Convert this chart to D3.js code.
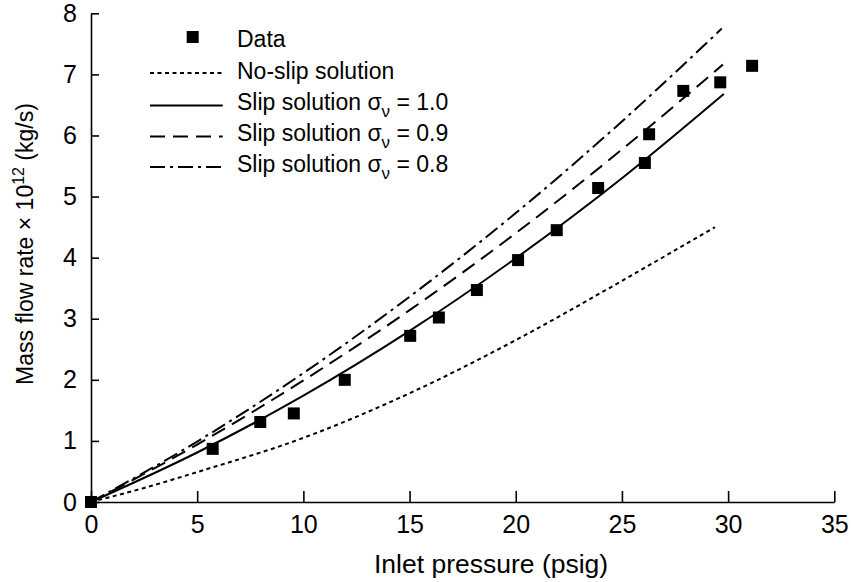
<!DOCTYPE html>
<html>
<head>
<meta charset="utf-8">
<script src="https://cdn.jsdelivr.net/npm/d3@7"></script>
<style>
  html, body { margin: 0; padding: 0; background: #fff; }
  svg { display: block; font-family: "Liberation Sans", Arial, Helvetica, sans-serif; }
</style>
</head>
<body>
<svg id="chart" width="851" height="582"></svg>
<script>
// ---- Data ----
const dataPressure = [0, 5.73, 7.97, 9.55, 11.95, 15.03, 16.38, 18.17, 20.11, 21.93, 23.88, 26.08, 26.28, 27.89, 29.63, 31.13];
const dataFlow     = [0, 0.87, 1.31, 1.45, 2.00, 2.72, 3.02, 3.47, 3.96, 4.45, 5.14, 5.55, 6.02, 6.73, 6.87, 7.14];

const noSlipP = [0, 2.5, 5, 10, 15, 20, 25, 29.38];
const noSlipF = [0, 0.23, 0.49, 1.05, 1.78, 2.65, 3.62, 4.50];

const slip10P = [0, 5, 10, 15, 20, 25, 29.8];
const slip10F = [0, 0.81, 1.74, 2.80, 3.99, 5.30, 6.68];

const slip09P = [0, 5, 10, 15, 20, 25, 29.75];
const slip09F = [0, 0.94, 1.99, 3.14, 4.40, 5.77, 7.16];

const slip08P = [0, 5, 10, 15, 20, 25, 29.7];
const slip08F = [0, 0.99, 2.11, 3.36, 4.73, 6.23, 7.75];

const xTicks = [0, 5, 10, 15, 20, 25, 30, 35];
const yTicks = [0, 1, 2, 3, 4, 5, 6, 7, 8];

const legendLabels = ["Data", "No-slip solution", "Slip solution", "Slip solution", "Slip solution"];
const legendSigmas = [null, null, "1.0", "0.9", "0.8"];

// ---- Layout ----
const svg = d3.select("#chart");
const x = d3.scaleLinear().domain([0, 35]).range([91, 834.3]);
const y = d3.scaleLinear().domain([0, 8]).range([502, 13.3]);

// Axes
const xAxis = d3.axisBottom(x).tickValues(xTicks).tickFormat(d3.format("d"))
  .tickSizeInner(-11).tickSizeOuter(0).tickPadding(13);
const yAxis = d3.axisLeft(y).tickValues(yTicks).tickFormat(d3.format("d"))
  .tickSizeInner(-8).tickSizeOuter(0).tickPadding(14);

const gx = svg.append("g").attr("transform", "translate(0,502)").call(xAxis);
const gy = svg.append("g").attr("transform", "translate(91,0)").call(yAxis);
[gx, gy].forEach(g => {
  g.attr("font-family", null).attr("font-size", null);
  g.selectAll("path.domain").attr("stroke", "#000").attr("stroke-width", 1.6);
  g.selectAll(".tick line").attr("stroke", "#000").attr("stroke-width", 1.6);
  g.selectAll(".tick text").attr("fill", "#000").style("font-size", "25px");
});

// Axis titles
svg.append("text")
  .attr("x", 374).attr("y", 573)
  .style("font-size", "26.5px").attr("fill", "#000")
  .text("Inlet pressure (psig)");

const yt = svg.append("text")
  .attr("transform", "translate(33,244) rotate(-90)")
  .attr("text-anchor", "middle")
  .style("font-size", "23px").attr("fill", "#000");
yt.append("tspan").text("Mass flow rate \u00d7 10");
yt.append("tspan").attr("dy", -9).style("font-size", "16px").text("12");
yt.append("tspan").attr("dy", 9).text(" (kg/s)");

// Lines
const line = d3.line().x(d => x(d[0])).y(d => y(d[1])).curve(d3.curveMonotoneX);
const zip = (a, b) => a.map((v, i) => [v, b[i]]);

const series = [
  { p: noSlipP, f: noSlipF, dash: "4,3.5" },
  { p: slip10P, f: slip10F, dash: null },
  { p: slip09P, f: slip09F, dash: "15,8" },
  { p: slip08P, f: slip08F, dash: "15,5,3,5" }
];

series.forEach(s => {
  svg.append("path")
    .datum(zip(s.p, s.f))
    .attr("d", line)
    .attr("fill", "none")
    .attr("stroke", "#000")
    .attr("stroke-width", 2)
    .attr("stroke-dasharray", s.dash);
});

// Data markers
const sq = 12;
svg.append("g").selectAll("rect")
  .data(zip(dataPressure, dataFlow))
  .join("rect")
  .attr("x", d => x(d[0]) - sq / 2)
  .attr("y", d => y(d[1]) - sq / 2)
  .attr("width", sq).attr("height", sq)
  .attr("fill", "#000");

// Legend
const legBase = [47, 79, 110, 141, 172];
const legLineY = [37, 73, 105.5, 136.5, 167];
const legX0 = 150, legX1 = 222.7, legTextX = 237;
const leg = svg.append("g");

leg.append("rect")
  .attr("x", 192.7 - sq / 2).attr("y", legLineY[0] - sq / 2)
  .attr("width", sq).attr("height", sq).attr("fill", "#000");

series.forEach((s, i) => {
  leg.append("line")
    .attr("x1", legX0).attr("x2", legX1)
    .attr("y1", legLineY[i + 1]).attr("y2", legLineY[i + 1])
    .attr("stroke", "#000").attr("stroke-width", 2)
    .attr("stroke-dasharray", s.dash);
});

legendLabels.forEach((lab, i) => {
  const t = leg.append("text")
    .attr("x", legTextX).attr("y", legBase[i])
    .style("font-size", "23px").attr("fill", "#000");
  if (legendSigmas[i] === null) {
    t.text(lab);
  } else {
    t.append("tspan").text(lab + " \u03c3");
    t.append("tspan").attr("dy", 7).style("font-size", "17px").text("\u03bd");
    t.append("tspan").attr("dy", -7).text(" = " + legendSigmas[i]);
  }
});
</script>
</body>
</html>
